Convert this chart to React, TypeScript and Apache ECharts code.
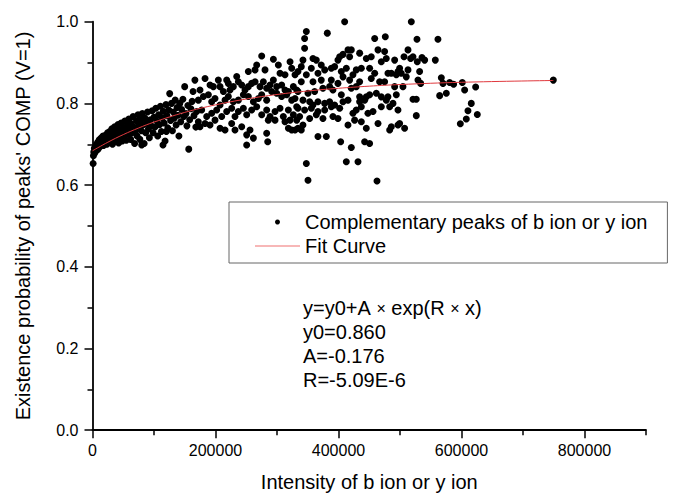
import React, { useEffect, useRef } from "react";
import * as echarts from "echarts";

const FONT = '"Liberation Sans", Arial, Helvetica, sans-serif';

// Scatter points: [intensity, probability]
const peaksLow: number[][] = [
  [1000,0.653],[1500,0.672],[2000,0.681],[3000,0.690],[3500,0.678],[4000,0.686],[5000,0.695],[6000,0.684],[6500,0.700],[7500,0.691],
  [8500,0.705],[9000,0.688],[10000,0.698],[11000,0.711],[12000,0.694],[13000,0.702],[14000,0.715],[15000,0.699],[16000,0.708],[17000,0.720],
  [18000,0.697],[19000,0.712],[20000,0.703],[21000,0.722],[22500,0.710],[23500,0.700],[24500,0.728],[25500,0.715],[27000,0.705],[28000,0.731],
  [29000,0.719],[30500,0.710],[31500,0.738],[32500,0.700],[33500,0.725],[35000,0.715],[36000,0.743],[37000,0.708],[38500,0.729],[40000,0.720],
  [41500,0.748],[42500,0.703],[43500,0.735],[45000,0.716],[46500,0.752],[47500,0.727],[48500,0.708],[50000,0.740],[51500,0.720],[52500,0.757],
  [54000,0.731],[55000,0.710],[56500,0.746],[58000,0.725],[59000,0.762],[60500,0.737],[62000,0.712],[63000,0.751],[64500,0.728],[66000,0.768],
  [67000,0.742],[68500,0.702],[70000,0.733],[71500,0.757],[72500,0.720],[74000,0.772],[75500,0.745],[77000,0.712],[78000,0.760],[79500,0.733],
  [80000,0.698],[81000,0.775],[82500,0.748],[84000,0.702],[85000,0.764],[86500,0.728],[88000,0.752],[89500,0.779],[91000,0.738],[92500,0.716],
  [94000,0.760],[95500,0.745],[97000,0.782],[98500,0.728],[100000,0.766],[101500,0.742],[103000,0.788],[104500,0.757],[106000,0.720],[107500,0.772],
  [109000,0.748],[110500,0.793],[112000,0.731],[113500,0.765],[114600,0.698],[115000,0.781],[116500,0.752],[118000,0.708],[119500,0.797],[120100,0.731],
  [121000,0.770],[122500,0.740],[124000,0.784],[125500,0.824],[127000,0.758],[128500,0.800],[130000,0.733],[131500,0.779],[133000,0.764],[134500,0.808],
  [136000,0.747],[137500,0.790],[139000,0.771],[140500,0.720],[142000,0.800],[143500,0.755],[145000,0.785],[147000,0.810],[148500,0.768],[149900,0.841],
  [152000,0.775],[153500,0.745],[155000,0.795],[156500,0.688],[158000,0.760],[160000,0.787],[162000,0.805],[163500,0.829],[165000,0.770],[166500,0.857],
  [168000,0.742]
];

const peaksMid: number[][] = [
  [275100,0.916],[294100,0.908],[267000,0.894],[264300,0.882],[253400,0.878],[280500,0.882],[302200,0.894],[321200,0.902],[323900,0.886],[313000,0.870],
  [304900,0.874],[329300,0.870],[174800,0.833],[183000,0.861],[191100,0.845],[196500,0.841],[204600,0.857],[207400,0.841],[212800,0.829],[218200,0.857],
  [220900,0.849],[223600,0.833],[229000,0.841],[234500,0.866],[237200,0.853],[242600,0.845],[248000,0.833],[253400,0.841],[258800,0.849],[264300,0.853],
  [272400,0.841],[277800,0.853],[283200,0.837],[288700,0.845],[294100,0.857],[299500,0.841],[307600,0.845],[313000,0.833],[318500,0.829],[326600,0.841],
  [332000,0.833],[172100,0.808],[180300,0.817],[188400,0.821],[193800,0.804],[199200,0.812],[207400,0.796],[215500,0.808],[220900,0.817],[229000,0.804],
  [237200,0.808],[245300,0.821],[253400,0.817],[261600,0.804],[269700,0.812],[275100,0.821],[283200,0.808],[291400,0.829],[299500,0.825],[307600,0.817],
  [315800,0.821],[323900,0.808],[329300,0.812],[169400,0.780],[177500,0.784],[185700,0.768],[193800,0.776],[201900,0.784],[210100,0.768],[218200,0.780],
  [226300,0.788],[231700,0.768],[237200,0.780],[245300,0.788],[250700,0.772],[258800,0.784],[267000,0.792],[275100,0.772],[283200,0.784],[288700,0.768],
  [296800,0.780],[304900,0.788],[310300,0.768],[318500,0.784],[326600,0.772],[332000,0.792],[172100,0.755],[174800,0.743],[183000,0.751],[191100,0.747],
  [199200,0.759],[207400,0.739],[215500,0.735],[226300,0.751],[231700,0.735],[242600,0.743],[250700,0.723],[256100,0.735],[261600,0.715],[283200,0.727],
  [285900,0.759],[296800,0.759],[313000,0.755],[318500,0.739],[323900,0.735],[329300,0.735],[332000,0.759],[321200,0.759],[250700,0.698],[284900,0.706]
];

const peaksHigh: number[][] = [
  [410000,1.000],[347700,0.976],[344900,0.959],[344900,0.935],[381800,0.972],[458800,0.959],[476100,0.963],
  [342200,0.906],[358500,0.910],[363900,0.906],[339500,0.890],[355800,0.886],[372000,0.894],[401900,0.914],[407300,0.920],[415400,0.931],
  [420800,0.931],[399100,0.906],[418100,0.914],[434400,0.923],[445200,0.910],[453300,0.914],[464200,0.931],[475000,0.927],[477700,0.910],
  [469600,0.902],[491300,0.906],[496700,0.878],[334100,0.878],[347700,0.870],[366600,0.874],[377500,0.882],[388300,0.886],[393700,0.890],
  [404600,0.878],[412700,0.886],[428900,0.882],[437100,0.886],[450600,0.886],[458800,0.874],[485900,0.874],[494000,0.870],[339500,0.853],
  [358500,0.853],[372000,0.857],[388300,0.857],[399100,0.849],[407300,0.865],[418100,0.857],[423500,0.870],[434400,0.853],[453300,0.861],
  [466900,0.853],[475000,0.853],[480400,0.874],[334100,0.829],[350400,0.825],[361200,0.829],[374700,0.837],[385600,0.841],[391000,0.833],
  [404600,0.821],[420800,0.837],[428900,0.841],[434400,0.816],[445200,0.816],[450600,0.821],[461500,0.825],[469600,0.816],[480400,0.816],
  [491300,0.841],[494000,0.821],[342200,0.808],[353100,0.804],[358500,0.796],[366600,0.804],[377500,0.800],[385600,0.804],[393700,0.796],
  [407300,0.804],[415400,0.808],[434400,0.804],[442500,0.808],[477700,0.808],[488600,0.800],[334100,0.788],[344900,0.784],[355800,0.788],
  [366600,0.780],[377500,0.784],[388300,0.792],[401900,0.788],[423500,0.776],[428900,0.784],[437100,0.792],[447900,0.776],[456100,0.780],
  [469600,0.792],[483200,0.792],[496700,0.784],[336800,0.768],[342200,0.747],[334100,0.739],[353100,0.763],[363900,0.772],[374700,0.763],
  [391000,0.768],[399100,0.763],[415400,0.747],[426200,0.759],[437100,0.755],[445200,0.739],[464200,0.751],[483200,0.735],[496700,0.747],
  [339500,0.735],[366600,0.719],[380200,0.719],[403500,0.706],[420800,0.692],[442500,0.706],[450600,0.702],[485900,0.743],
  [347700,0.653],[412700,0.657],[431700,0.657],[350400,0.612],[462600,0.610]
];

const peaksTail: number[][] = [
  [518400,1.000],[527600,0.957],[561700,0.957],[513000,0.931],[506500,0.914],[517300,0.910],[521100,0.914],[528100,0.902],[535700,0.912],
  [540100,0.906],[557400,0.906],[499400,0.886],[502100,0.874],[513000,0.882],[510200,0.865],[531900,0.878],[529200,0.857],[533600,0.849],
  [504800,0.841],[567200,0.863],[569900,0.849],[580700,0.851],[587200,0.847],[601300,0.851],[605100,0.833],[623000,0.840],[564500,0.819],
  [575300,0.825],[521100,0.810],[526500,0.810],[526500,0.770],[615900,0.800],[610500,0.782],[625700,0.773],[607800,0.762],[598100,0.750],
  [499400,0.751],[507500,0.739],[749300,0.857]
];

// Fit curve y = y0 + A*exp(R*x)
const fitX = [0, 25000, 50000, 75000, 100000, 150000, 200000, 250000, 300000, 350000, 400000, 450000, 500000, 600000, 749300];
const fitY = [0.684, 0.705, 0.7236, 0.7398, 0.7542, 0.778, 0.7964, 0.8107, 0.8218, 0.8304, 0.837, 0.8422, 0.8462, 0.8517, 0.8561];

const xMajorTicks = [0, 200000, 400000, 600000, 800000];
const xMinorTicks = [100000, 300000, 500000, 700000, 900000];

const equationLines = ["y=y0+A {m|×} exp(R {m|×} x)", "y0=0.860", "A=-0.176", "R=-5.09E-6"];

export default function App() {
  const ref = useRef<HTMLDivElement>(null);
  useEffect(() => {
    if (!ref.current) return;
    const chart = echarts.init(ref.current, undefined, { renderer: "svg" });
    const axisLineStyle = { color: "#000", width: 1.8 };
    const scatterData = [...peaksLow, ...peaksMid, ...peaksHigh, ...peaksTail];
    chart.setOption({
      animation: false,
      backgroundColor: "#fff",
      textStyle: { fontFamily: FONT },
      grid: { left: 92.5, top: 21.7, width: 553.5, height: 408.5, containLabel: false, outerBoundsMode: "none" },
      legend: {
        orient: "vertical",
        left: 229,
        top: 202,
        padding: [10, 20, 7, 26],
        borderColor: "#666",
        borderWidth: 1,
        itemWidth: 45,
        itemHeight: 5,
        itemGap: 4,
        textStyle: { fontSize: 20, lineHeight: 20, color: "#000", fontFamily: FONT },
        data: [
          { name: "Complementary peaks of b ion or y ion", icon: "circle" },
          { name: "Fit Curve", icon: "path://M0 0 L90 0 L90 2 L0 2 Z" },
        ],
      },
      xAxis: [
        {
          type: "value",
          min: 0,
          max: 900000,
          position: "bottom",
          name: "Intensity of b ion or y ion",
          nameLocation: "middle",
          nameGap: 42,
          nameTextStyle: { fontSize: 20, color: "#000", fontFamily: FONT },
          axisLine: { show: true, lineStyle: axisLineStyle },
          axisTick: { show: true, customValues: xMajorTicks, length: 8, lineStyle: { color: "#000", width: 1.5 } },
          axisLabel: {
            customValues: xMajorTicks,
            fontSize: 16,
            color: "#000",
            margin: 12,
            fontFamily: FONT,
            formatter: (v: number) => String(v),
          },
          splitLine: { show: false },
        },
        {
          type: "value",
          min: 0,
          max: 900000,
          position: "bottom",
          axisLine: { show: false },
          axisTick: { show: true, customValues: xMinorTicks, length: 5, lineStyle: { color: "#000", width: 1.5 } },
          axisLabel: { show: false },
          splitLine: { show: false },
        },
      ],
      yAxis: {
        type: "value",
        min: 0,
        max: 1,
        interval: 0.2,
        name: "Existence probability of peaks' COMP (V=1)",
        nameLocation: "middle",
        nameGap: 60,
        nameTextStyle: { fontSize: 20, color: "#000", fontFamily: FONT },
        axisLine: { show: true, lineStyle: axisLineStyle },
        axisTick: { show: true, length: 8, lineStyle: { color: "#000", width: 1.5 } },
        minorTick: { show: true, splitNumber: 2, length: 5, lineStyle: { color: "#000", width: 1.5 } },
        axisLabel: { fontSize: 16, color: "#000", margin: 14, fontFamily: FONT, formatter: (v: number) => v.toFixed(1) },
        splitLine: { show: false },
        minorSplitLine: { show: false },
      },
      series: [
        {
          name: "Complementary peaks of b ion or y ion",
          type: "scatter",
          xAxisIndex: 0,
          data: scatterData,
          symbol: "circle",
          symbolSize: 7,
          itemStyle: { color: "#000", opacity: 1 },
          z: 2,
        },
        {
          name: "Fit Curve",
          type: "line",
          xAxisIndex: 0,
          data: fitX.map((x, i) => [x, fitY[i]]),
          smooth: 0.4,
          symbol: "none",
          lineStyle: { color: "#e0393e", width: 1 },
          itemStyle: { color: "#f07070" },
          z: 3,
        },
      ],
      graphic: [
        {
          type: "text",
          left: 303,
          top: 296,
          style: {
            text: equationLines.join("\n"),
            font: `20px ${FONT}`,
            fontSize: 20,
            fontFamily: FONT,
            lineHeight: 24,
            fill: "#000",
            rich: { m: { fontSize: 16, fontFamily: FONT, fill: "#000" } },
          },
        },
      ],
    });
    return () => chart.dispose();
  }, []);
  return <div ref={ref} style={{ position: "fixed", left: 0, top: 0, width: 685, height: 503, background: "#fff" }} />;
}
